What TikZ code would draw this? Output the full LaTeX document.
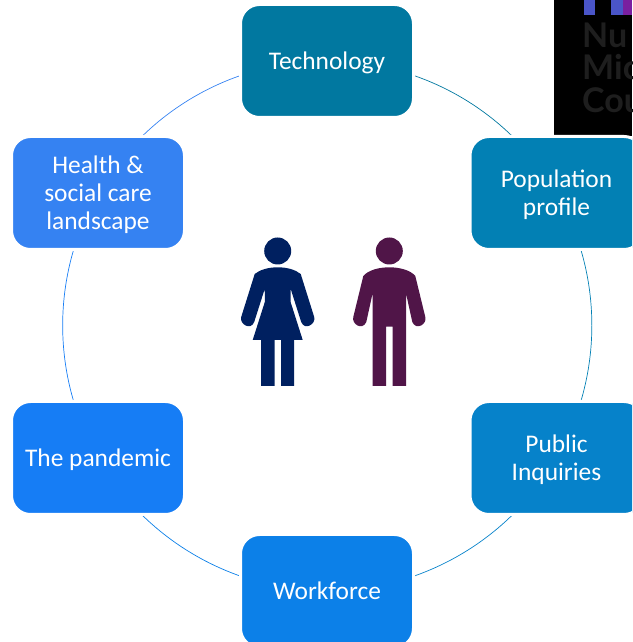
\documentclass[tikz,border=0pt]{standalone}
\usepackage{fontspec}
\setmainfont{Carlito}
\newfontfamily\logofont{Lato}
\usetikzlibrary{backgrounds}
\definecolor{techblue}{RGB}{1,120,160}
\definecolor{popblue}{RGB}{2,128,180}
\definecolor{inqblue}{RGB}{6,130,202}
\definecolor{workblue}{RGB}{12,128,232}
\definecolor{panblue}{RGB}{22,125,245}
\definecolor{healthblue}{RGB}{53,130,242}
\definecolor{womancol}{RGB}{0,32,96}
\definecolor{mancol}{RGB}{80,21,72}
\definecolor{logotext}{RGB}{30,30,30}
\definecolor{logobar}{RGB}{74,85,200}
\definecolor{logopurple}{RGB}{122,31,160}
\newcommand{\boxstrut}{\rule[-5pt]{0pt}{28pt}}
\newcommand{\toprow}{\rule{0pt}{22pt}}
\tikzset{
	carebox/.style={draw=white, line width=3pt, fill=#1, rounded corners=19pt, minimum width=173pt, minimum height=113pt, inner sep=0pt, text=white, align=center, font=\fontsize{25.4}{28}\selectfont, execute at begin node=\boxstrut},
	ringarc/.style={draw=#1, line width=0.7pt, bend left=30, looseness=0.912},
	logoline/.style={anchor=base west, inner sep=0pt, text=logotext, font=\logofont\bfseries\fontsize{34}{34}\selectfont}
}
\begin{document}
\begin{tikzpicture}[x=1pt,y=1pt]
	\clip (0,0) rectangle (632,642);

	% Logo behind the ring
	\fill[black] (554,506) rectangle (632,642);
	\fill[logobar] (584,627) rectangle (595,642);
	\fill[logobar] (611,627) rectangle (623,642);
	\fill[logopurple] (623,627) rectangle (632,642);
	\node[logoline] (logonu) at (582,594) {Nu};
	\node[logoline] (logomi) at (582,562) {Mic};
	\node[logoline] (logoco) at (582,529) {Cou};

	% Boxes
	\node[carebox=techblue] (tech) at (327,581) {Technology};
	\node[carebox=popblue] (pop) at (556.5,449) {\toprow Population\\profile};
	\node[carebox=inqblue] (inq) at (556.5,184) {\toprow Public\\Inquiries};
	\node[carebox=workblue] (work) at (327,51) {Workforce};
	\node[carebox=panblue] (pan) at (98,184) {The pandemic};
	\node[carebox=healthblue] (health) at (98,449) {\toprow Health \&\\social care\\landscape};

	% Ring
	\begin{scope}[on background layer]
		\draw[ringarc=techblue] (tech.center) to (pop.center);
		\draw[ringarc=popblue] (pop.center) to (inq.center);
		\draw[ringarc=inqblue] (inq.center) to (work.center);
		\draw[ringarc=workblue] (work.center) to (pan.center);
		\draw[ringarc=panblue] (pan.center) to (health.center);
		\draw[ringarc=healthblue] (health.center) to (tech.center);
	\end{scope}

	% Woman
	\begin{scope}[shift={(277.7,412)},y=-1pt]
		\fill[womancol] (0,21) circle (13.5pt);
		\fill[womancol] (0,37.3) .. controls (-10,37.3) and (-18,40) .. (-23,44) -- (-36.5,87)
			.. controls (-38.5,94) and (-27,101) .. (-23.5,92) -- (-13,59) -- (-12.8,71.7) -- (-25,110)
			-- (-16.5,110) -- (-16.5,156) -- (-3,156) -- (-3,110) -- (3.5,110) -- (3.5,156) -- (16.5,156) -- (16.5,110)
			-- (25,110) -- (12.8,71.7) -- (13,59) -- (23.5,92) .. controls (27,101) and (38.5,94) .. (36.5,87)
			-- (23,44) .. controls (18,40) and (10,37.3) .. (0,37.3) -- cycle;
	\end{scope}

	% Man
	\begin{scope}[shift={(389.3,412)},y=-1pt]
		\fill[mancol] (0,21) circle (13.5pt);
		\fill[mancol] (0,37.3) .. controls (-10,37.3) and (-21,40) .. (-26,46) -- (-36,87)
			.. controls (-38,94) and (-27,101) .. (-23,92) -- (-16.7,63.3) -- (-16.7,156) -- (-3.3,156) -- (-3.3,96.7)
			-- (3.3,96.7) -- (3.3,156) -- (16.7,156) -- (16.7,63.3) -- (23,92)
			.. controls (27,101) and (38,94) .. (36,87) -- (26,46) .. controls (21,40) and (10,37.3) .. (0,37.3) -- cycle;
	\end{scope}
\end{tikzpicture}
\end{document}
